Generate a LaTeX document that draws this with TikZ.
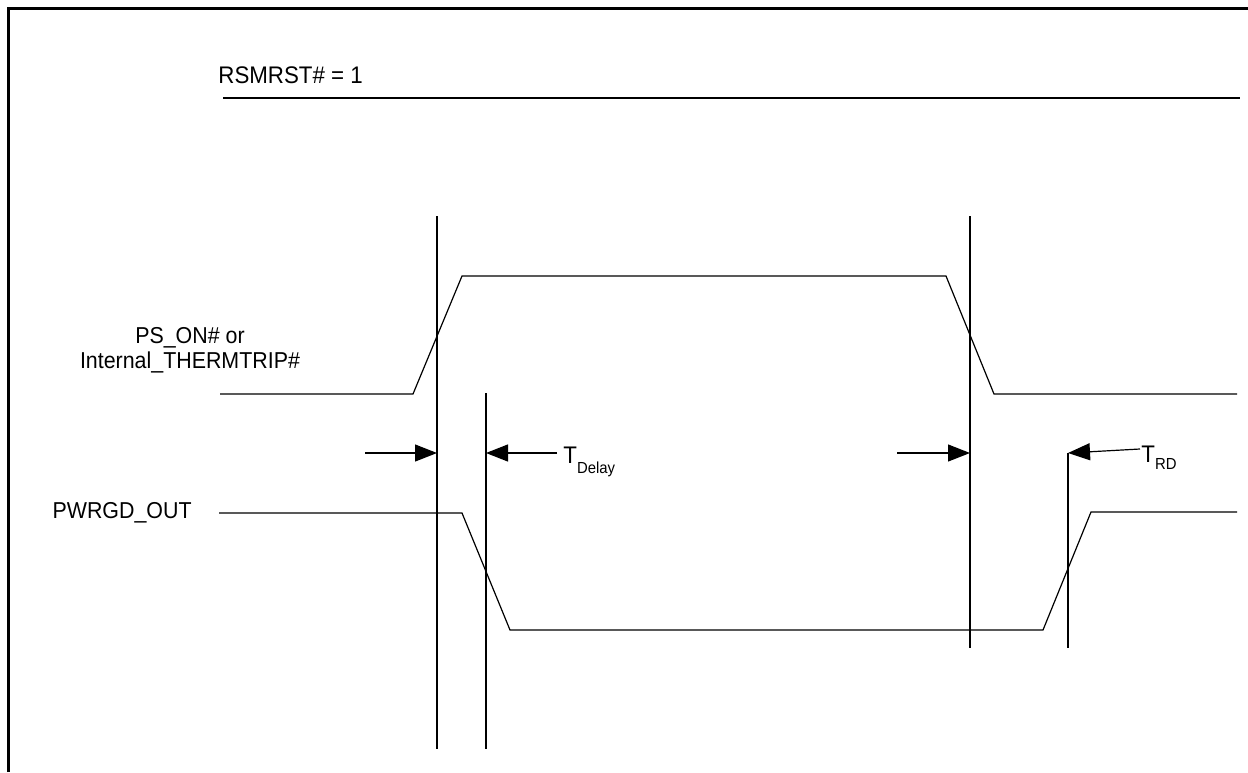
\documentclass[tikz,border=0pt]{standalone}
\usepackage{fontspec}
\setmainfont{Liberation Sans}[FakeStretch=0.93]
\usetikzlibrary{arrows.meta}
\begin{document}
\begin{tikzpicture}[x=0.5pt,y=-0.5pt,
  frame/.style={line width=1.5pt},
  sig/.style={line width=0.6pt,line join=miter},
  guide/.style={line width=0.6pt},
  meas/.style={line width=0.6pt,-{Triangle[length=11pt,width=8.5pt]}},
  lbl/.style={inner sep=0pt,font=\fontsize{11.5}{13}\selectfont},
  biglbl/.style={inner sep=0pt,font=\fontsize{12}{14}\selectfont}]
\useasboundingbox (0,0) rectangle (1248,772);
% frame
\draw[frame] (8,772) -- (8,8) -- (1248,8);
% RSMRST
\node[biglbl,anchor=base west] (rsm) at (218,83) {RSMRST\# = 1};
\coordinate (rsmL) at (223,98);
\coordinate (rsmR) at (1240,98);
\draw[guide] (rsmL) -- (rsmR);
% labels
\node[lbl,anchor=base] (ps1) at (190,343) {PS\_ON\# or};
\node[lbl,anchor=base] (ps2) at (190,368) {Internal\_THERMTRIP\#};
\node[lbl,anchor=base east] (pg) at (192,518) {PWRGD\_OUT};
% waveforms
\draw[sig] (220,394) -- (413,394) -- (462,276) -- (946,276) -- (994,394) -- (1237,394);
\draw[sig] (219,513) -- (462,513) -- (510,630) -- (1043,630) -- (1091,512) -- (1237,512);
% vertical reference lines
\coordinate (v1t) at (437,216); \coordinate (v1b) at (437,749);
\coordinate (v2t) at (486,393); \coordinate (v2b) at (486,749);
\coordinate (v3t) at (970,216); \coordinate (v3b) at (970,648);
\coordinate (v4t) at (1068,453); \coordinate (v4b) at (1068,648);
\draw[guide] (v1t) -- (v1b);
\draw[guide] (v2t) -- (v2b);
\draw[guide] (v3t) -- (v3b);
\draw[guide] (v4t) -- (v4b);
% measurement arrows
\coordinate (a1s) at (365,453); \coordinate (a1e) at (437,453);
\coordinate (a2s) at (557,453); \coordinate (a2e) at (486,453);
\coordinate (a3s) at (897,453); \coordinate (a3e) at (970,453);
\coordinate (a4s) at (1140,449);
\draw[meas] (a1s) -- (a1e);
\draw[meas] (a2s) -- (a2e);
\draw[meas] (a3s) -- (a3e);
\draw[meas] (a4s) -- (v4t);
\node[biglbl,anchor=base west] (tdelay) at (563,463) {T\raisebox{-5pt}{\fontsize{8}{9}\selectfont Delay}};
\node[biglbl,anchor=base west] (trd) at (1141,462) {T\raisebox{-3.5pt}{\fontsize{8}{9}\selectfont RD}};
\end{tikzpicture}
\end{document}
